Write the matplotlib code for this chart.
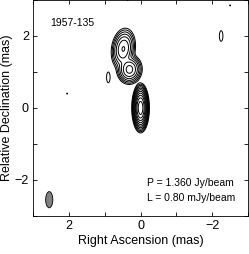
import numpy as np
import matplotlib
matplotlib.use("Agg")
import matplotlib.pyplot as plt
from matplotlib.patches import Ellipse

plt.rcParams['font.family'] = ['Liberation Sans', 'DejaVu Sans']

# Source model components (Gaussian)
comp_x = [0.0, 0.48, 0.31, 0.90, -2.25, 2.05, -2.50, 0.36]
comp_y = [0.0, 1.64, 1.07, 0.85, 2.00, 0.40, 2.85, 3.00]
comp_peak = [1360.0, 54.0, 68.0, 1.3, 1.3, 0.88, 0.88, 0.88]   # mJy/beam
comp_sx = [0.064, 0.115, 0.12, 0.05, 0.05, 0.03, 0.03, 0.03]
comp_sy = [0.180, 0.20, 0.14, 0.15, 0.15, 0.03, 0.03, 0.03]
comp_rot = [0.0, -8.0, -5.0, 0.0, 0.0, 0.0, 0.0, 0.0]

lowest = 0.80  # mJy/beam
peak_label = "P = 1.360 Jy/beam"
low_label = "L = 0.80 mJy/beam"
source = "1957-135"
levels = [lowest * 2 ** k for k in range(11)]

beam_x, beam_y, beam_w, beam_h = 2.55, -2.55, 0.20, 0.45

x = np.linspace(3, -3, 801)
y = np.linspace(-3, 3, 801)
X, Y = np.meshgrid(x, y)
Z = np.zeros_like(X)
for cx, cy, p, sx, sy, r in zip(comp_x, comp_y, comp_peak, comp_sx, comp_sy, comp_rot):
    t = np.deg2rad(r)
    dx, dy = X - cx, Y - cy
    u = dx * np.cos(t) - dy * np.sin(t)
    v = dx * np.sin(t) + dy * np.cos(t)
    Z += p * np.exp(-0.5 * ((u / sx) ** 2 + (v / sy) ** 2))

fig = plt.figure(figsize=(2.49, 2.54), dpi=100)
ax = fig.add_axes([0.133, 0.15, 0.863, 0.85])
ax.contour(X, Y, Z, levels=levels, colors='black', linewidths=0.7)
ax.add_patch(Ellipse((beam_x, beam_y), beam_w, beam_h, facecolor='#808080',
                     edgecolor='black', linewidth=0.6))
ax.set_xlim(3, -3)
ax.set_ylim(-3, 3)
ax.set_xticks([2, 0, -2])
ax.set_yticks([-2, 0, 2])
ax.set_xticks([3, 1, -1, -3], minor=True)
ax.set_yticks([-3, -1, 1, 3], minor=True)
ax.tick_params(which='both', direction='in', top=True, right=True, labelsize=9,
               length=3, width=0.6, pad=3)
for s in ax.spines.values():
    s.set_linewidth(0.6)
ax.set_xlabel("Right Ascension (mas)", fontsize=9, labelpad=2)
ax.set_ylabel("Relative Declination (mas)", fontsize=9, labelpad=1)
ax.text(2.51, 2.36, source, fontsize=7.5, va='center')
ax.text(-0.17, -2.08, peak_label, fontsize=7.5, va='center')
ax.text(-0.17, -2.50, low_label, fontsize=7.5, va='center')
fig.savefig("out.png", dpi=100)
